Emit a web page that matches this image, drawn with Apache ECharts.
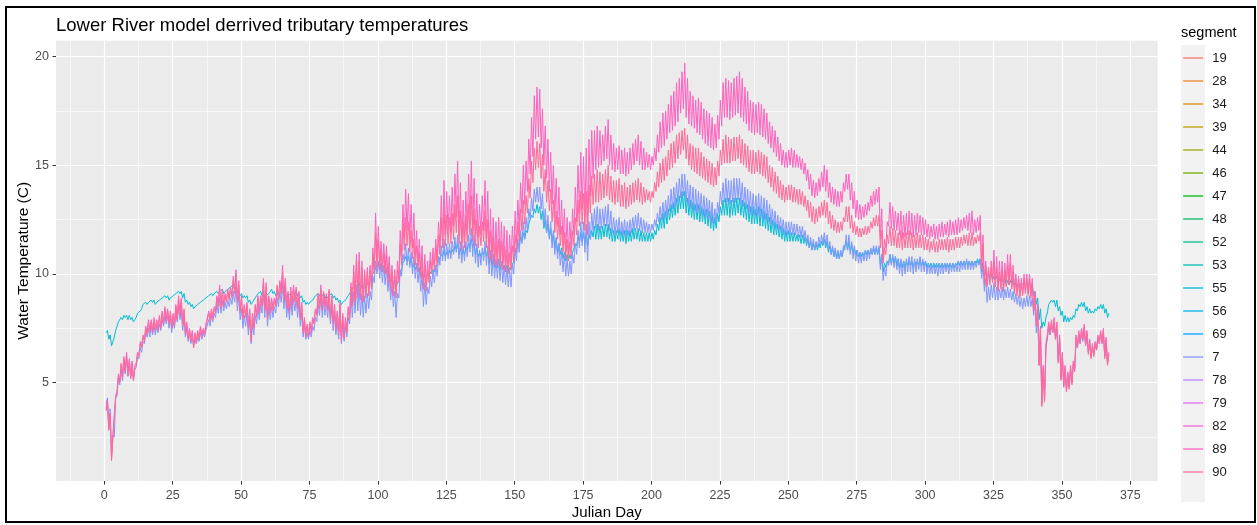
<!DOCTYPE html>
<html>
<head>
<meta charset="utf-8">
<script src="https://cdn.jsdelivr.net/npm/echarts@6/dist/echarts.min.js"></script>
<style>
  html, body { margin: 0; padding: 0; background: #ffffff; }
  #chart { width: 1257px; height: 525px; }
</style>
</head>
<body>
<div id="chart"></div>
<script>
// Modelled water temperature (°C), two readings per day: daily low then daily high.
// One line per ten Julian days, starting at day 1.
const seg89 = [
  3.8,4.2, 2.9,3.6, 1.5,2.6, 2.6,4.4, 4.6,5.4, 5.1,5.9, 5.3,6.2, 5.6,6.4, 5.4,6.1, 5.3,6.0,
  5.2,5.8, 5.9,6.4, 6.3,6.9, 6.7,7.2, 7.0,7.6, 7.3,7.9, 7.4,7.9, 7.4,8.0, 7.5,7.9, 7.5,8.1,
  7.6,8.3, 7.8,8.5, 7.9,8.4, 7.8,8.3, 7.6,8.2, 7.7,8.6, 8.0,9.0, 8.2,8.9, 7.7,8.4, 7.3,7.8,
  7.1,7.5, 7.0,7.4, 6.7,7.3, 6.9,7.4, 7.1,7.6, 7.2,7.5, 7.3,7.7, 7.7,8.3, 7.9,8.4, 8.0,8.5,
  8.3,9.0, 8.6,9.5, 8.5,9.3, 8.6,9.1, 8.8,9.3, 8.9,9.4, 9.0,9.9, 9.2,10.2, 8.8,9.7, 8.3,9.0,
  8.0,8.6, 8.1,8.7, 7.6,8.4, 7.0,8.2, 7.6,8.6, 8.1,9.0, 8.3,9.0, 8.6,9.8, 8.4,9.6, 8.0,9.0,
  8.3,8.9, 8.4,8.9, 8.6,9.5, 8.9,9.7, 9.2,10.4, 8.9,9.8, 8.5,9.2, 8.3,9.4, 8.6,9.5, 8.8,9.4,
  8.5,9.2, 8.0,8.7, 7.4,8.0, 7.2,7.7, 7.2,7.8, 7.4,8.0, 7.8,8.4, 8.2,9.1, 8.5,9.5, 8.4,9.2,
  8.6,9.1, 8.4,9.3, 8.0,9.0, 7.8,8.6, 7.5,8.3, 7.3,8.7, 7.0,8.2, 7.1,8.0, 7.4,8.5, 8.0,9.6,
  8.6,10.4, 8.8,10.9, 9.0,11.0, 8.9,10.6, 8.8,10.2, 9.0,10.3, 9.1,10.4, 9.4,11.2, 10.2,12.8, 10.6,12.2,
  10.4,11.5, 10.3,11.4, 10.2,11.3, 9.8,10.8, 9.4,10.4, 9.2,10.2, 9.1,10.6, 9.8,12.0, 10.8,13.2, 11.6,13.9,
  12.0,13.7, 11.6,13.2, 11.2,12.8, 10.8,12.0, 10.4,11.6, 10.0,11.3, 9.5,10.9, 9.4,10.6, 9.8,11.0, 10.2,11.2,
  10.4,11.6, 10.6,12.4, 11.2,13.6, 11.5,14.3, 11.8,13.8, 12.0,13.6, 11.9,14.0, 12.2,14.6, 12.6,15.2, 11.8,14.2,
  11.4,13.4, 11.6,13.8, 12.0,14.6, 12.4,15.2, 12.0,14.4, 11.8,13.7, 11.7,13.2, 11.8,13.6, 12.0,14.3, 11.6,13.8,
  11.0,13.0, 10.8,12.6, 10.6,12.4, 10.7,12.6, 10.6,12.4, 10.5,12.2, 10.4,12.0, 10.3,11.8, 10.5,12.2, 11.0,12.9,
  11.4,13.4, 12.0,14.2, 12.8,15.0, 13.2,15.2, 13.8,16.2, 14.6,17.2, 15.4,18.2, 16.2,18.6, 16.3,18.5, 15.8,17.6,
  15.0,16.8, 14.4,16.2, 13.8,15.6, 13.2,15.0, 12.6,14.4, 12.2,14.0, 11.8,13.4, 11.4,13.0, 11.0,12.6, 10.9,12.4,
  11.2,13.0, 11.8,14.0, 12.4,15.0, 12.8,15.6, 13.0,15.4, 12.6,15.8, 12.4,16.2, 13.6,16.6, 14.4,16.6, 14.8,16.8,
  14.9,16.6, 15.0,16.4, 15.2,16.8, 15.3,17.1, 15.0,16.4, 14.8,16.0, 14.7,15.8, 14.8,15.9, 14.6,15.7, 14.6,15.8,
  14.5,15.6, 14.6,15.8, 14.8,16.0, 15.0,16.2, 15.2,16.4, 15.0,16.1, 14.8,15.8, 14.8,15.6, 14.9,15.5, 14.8,15.4,
  15.0,15.8, 15.2,16.4, 15.6,17.0, 15.8,17.4, 15.9,17.5, 16.2,17.8, 16.5,18.2, 16.6,18.4, 16.8,18.8, 17.0,19.0,
  17.4,19.3, 17.6,19.7, 17.2,19.0, 16.9,18.4, 16.8,18.2, 16.7,18.0, 16.5,18.1, 16.4,17.9, 16.2,17.6, 16.0,17.5,
  15.9,17.4, 15.8,17.2, 15.7,16.9, 15.8,17.3, 16.2,18.0, 16.8,18.8, 17.2,19.0, 17.2,18.9, 17.1,18.8, 17.2,19.0,
  17.3,19.1, 17.4,19.3, 17.2,19.0, 17.0,18.6, 16.9,18.4, 16.6,18.0, 16.5,17.9, 16.4,17.8, 16.5,17.9, 16.4,17.8,
  16.3,17.6, 16.2,17.4, 16.0,17.0, 15.8,16.8, 15.6,16.6, 15.4,16.3, 15.2,16.0, 15.0,15.7, 14.9,15.6, 14.9,15.7,
  15.0,15.8, 14.9,15.7, 14.9,15.5, 14.9,15.4, 14.8,15.3, 14.6,15.1, 14.3,14.8, 13.9,14.6, 13.6,14.3, 13.5,14.2,
  13.6,14.4, 13.8,14.7, 14.0,15.0, 13.8,14.8, 13.5,14.2, 13.3,14.0, 13.2,13.9, 13.1,13.8, 13.1,13.8, 13.3,14.2,
  13.8,14.6, 13.9,14.6, 13.4,14.2, 13.0,13.8, 12.6,13.4, 12.5,13.2, 12.5,13.1, 12.6,13.2, 12.7,13.3, 12.9,13.6,
  13.1,13.8, 13.2,13.9, 13.3,14.0, 11.6,13.0, 10.7,11.6, 11.2,12.4, 12.2,13.3, 12.1,13.1, 12.0,12.9, 12.0,12.8,
  11.8,12.9, 11.6,12.7, 11.7,12.8, 11.8,12.9, 11.8,12.8, 11.7,12.7, 11.8,12.8, 11.9,12.7, 11.8,12.6, 11.8,12.5,
  11.7,12.3, 11.6,12.2, 11.7,12.3, 11.6,12.2, 11.6,12.3, 11.7,12.4, 11.7,12.3, 11.8,12.4, 11.7,12.5, 11.8,12.4,
  11.8,12.5, 11.8,12.6, 11.9,12.5, 12.0,12.6, 12.1,12.7, 12.0,12.8, 11.9,12.9, 11.8,12.5, 11.9,12.6, 12.0,12.7,
  10.4,11.8, 9.6,10.6, 9.5,10.3, 9.6,10.6, 9.8,11.1, 9.5,10.8, 9.3,10.6, 9.4,10.6, 9.3,10.5, 9.5,10.9,
  9.6,10.9, 9.4,10.4, 9.2,10.0, 9.1,9.9, 9.0,9.8, 9.1,10.0, 9.2,10.0, 9.1,10.0, 9.0,9.8, 8.4,9.2,
  7.6,8.6, 5.8,7.6, 4.0,5.8, 4.2,6.8, 7.2,7.8, 7.3,7.9, 7.4,8.0, 7.1,7.8, 6.0,7.2, 5.2,6.4,
  4.8,5.8, 4.6,5.5, 4.8,5.8, 5.0,6.0, 5.6,7.2, 6.7,7.4, 6.9,7.5, 7.1,7.7, 6.8,7.4, 6.4,7.0,
  6.2,6.8, 6.3,6.9, 6.6,7.2, 6.9,7.4, 6.9,7.5, 6.2,7.1, 5.9,6.4
];

const seg90 = [
  3.7,4.1, 2.8,3.5, 1.4,2.5, 2.5,4.3, 4.5,5.3, 5.0,5.8, 5.2,6.1, 5.5,6.3, 5.3,6.0, 5.2,5.9,
  5.1,5.7, 5.8,6.3, 6.2,6.8, 6.6,7.1, 6.9,7.5, 7.2,7.8, 7.3,7.8, 7.3,7.9, 7.4,7.8, 7.4,8.0,
  7.5,8.2, 7.7,8.4, 7.8,8.3, 7.7,8.2, 7.5,8.1, 7.6,8.5, 7.9,8.8, 8.1,8.8, 7.6,8.3, 7.2,7.7,
  7.0,7.4, 6.9,7.3, 6.6,7.2, 6.8,7.3, 7.0,7.5, 7.1,7.4, 7.2,7.6, 7.6,8.2, 7.8,8.3, 7.9,8.4,
  8.2,8.9, 8.5,9.3, 8.4,9.2, 8.5,9.0, 8.7,9.2, 8.8,9.3, 8.9,9.7, 9.1,10.0, 8.7,9.5, 8.2,8.9,
  7.9,8.5, 8.0,8.6, 7.5,8.3, 6.9,8.1, 7.5,8.5, 8.0,8.9, 8.2,8.9, 8.5,9.6, 8.3,9.4, 7.9,8.9,
  8.2,8.8, 8.3,8.8, 8.5,9.4, 8.8,9.6, 9.1,10.1, 8.8,9.6, 8.4,9.1, 8.2,9.2, 8.5,9.3, 8.7,9.3,
  8.4,9.1, 7.9,8.6, 7.3,7.9, 7.1,7.6, 7.1,7.7, 7.3,7.9, 7.7,8.3, 8.1,9.0, 8.4,9.3, 8.3,9.1,
  8.5,9.0, 8.3,9.2, 7.9,8.9, 7.7,8.5, 7.4,8.2, 7.2,8.6, 6.9,8.1, 7.0,7.9, 7.3,8.4, 7.9,9.4,
  8.5,10.1, 8.7,10.6, 8.9,10.6, 8.8,10.3, 8.7,10.0, 8.9,10.1, 9.0,10.2, 9.3,10.9, 10.0,11.9, 10.3,11.6,
  10.2,11.1, 10.1,11.0, 10.0,10.9, 9.6,10.5, 9.2,10.1, 9.0,9.9, 8.9,10.2, 9.6,11.4, 10.4,12.3, 11.1,12.6,
  11.3,12.4, 11.0,12.0, 10.7,11.6, 10.4,11.3, 10.1,11.0, 9.8,10.7, 9.3,10.4, 9.2,10.2, 9.6,10.6, 10.0,10.8,
  10.2,11.2, 10.4,11.8, 10.9,12.6, 11.2,13.1, 11.3,12.7, 11.4,12.6, 11.4,12.8, 11.6,13.2, 11.9,13.6, 11.4,12.9,
  11.1,12.4, 11.2,12.7, 11.5,13.2, 11.8,13.6, 11.5,13.0, 11.3,12.5, 11.2,12.2, 11.3,12.4, 11.5,12.9, 11.2,12.5,
  10.7,12.0, 10.5,11.7, 10.4,11.5, 10.4,11.6, 10.3,11.5, 10.2,11.3, 10.1,11.1, 10.0,11.0, 10.2,11.3, 10.6,11.8,
  11.0,12.4, 11.5,13.0, 12.0,13.4, 12.3,13.6, 12.8,14.4, 13.5,15.2, 14.2,15.8, 14.8,16.1, 14.9,16.0, 14.4,15.5,
  13.8,14.8, 13.3,14.3, 12.9,13.9, 12.4,13.4, 11.9,12.9, 11.6,12.6, 11.3,12.2, 11.0,11.9, 10.7,11.6, 10.6,11.5,
  10.8,12.0, 11.3,12.6, 11.8,13.4, 12.2,13.8, 12.3,13.7, 12.0,13.8, 11.8,14.1, 12.8,14.5, 13.2,14.6, 13.3,14.8,
  13.3,14.7, 13.4,14.6, 13.5,14.8, 13.6,15.0, 13.4,14.5, 13.3,14.3, 13.2,14.3, 13.3,14.4, 13.1,14.1, 13.1,14.2,
  13.0,14.0, 13.1,14.1, 13.2,14.2, 13.3,14.3, 13.4,14.4, 13.3,14.2, 13.2,14.0, 13.3,13.9, 13.4,13.8, 13.3,13.8,
  13.5,14.2, 13.8,14.7, 14.0,15.1, 14.2,15.3, 14.3,15.4, 14.5,15.7, 14.8,16.0, 14.9,16.1, 15.1,16.4, 15.3,16.5,
  15.5,16.6, 15.7,16.7, 15.3,16.4, 15.0,16.0, 14.8,15.9, 14.7,15.8, 14.6,15.8, 14.5,15.6, 14.4,15.4, 14.3,15.3,
  14.2,15.2, 14.1,15.1, 14.0,14.9, 14.1,15.2, 14.5,15.7, 15.0,16.2, 15.1,16.4, 15.1,16.3, 15.1,16.2, 15.2,16.3,
  15.2,16.3, 15.3,16.4, 15.1,16.2, 15.0,16.0, 14.9,15.9, 14.7,15.7, 14.6,15.7, 14.6,15.6, 14.7,15.7, 14.6,15.6,
  14.5,15.5, 14.4,15.4, 14.2,15.0, 14.0,14.9, 13.8,14.7, 13.7,14.5, 13.5,14.3, 13.4,14.1, 13.3,14.0, 13.4,14.1,
  13.4,14.1, 13.3,14.0, 13.3,13.9, 13.2,13.9, 13.2,13.8, 13.1,13.6, 12.9,13.4, 12.6,13.3, 12.4,13.1, 12.3,13.0,
  12.4,13.1, 12.6,13.3, 12.7,13.4, 12.6,13.3, 12.3,12.9, 12.1,12.7, 12.0,12.5, 11.9,12.4, 11.9,12.4, 12.0,12.6,
  12.4,13.1, 12.4,13.1, 12.1,12.7, 11.9,12.4, 11.8,12.2, 11.7,12.1, 11.7,12.1, 11.8,12.2, 11.8,12.2, 11.9,12.4,
  12.1,12.6, 12.2,12.7, 12.2,12.7, 11.2,12.0, 10.5,11.2, 10.9,11.8, 11.4,12.2, 11.3,12.1, 11.3,12.0, 11.2,11.9,
  11.2,12.0, 11.1,11.9, 11.2,11.9, 11.2,12.0, 11.2,11.9, 11.1,11.8, 11.2,11.9, 11.2,11.8, 11.2,11.8, 11.1,11.7,
  11.1,11.6, 11.0,11.5, 11.1,11.6, 11.0,11.5, 11.0,11.6, 11.1,11.6, 11.1,11.6, 11.1,11.7, 11.0,11.6, 11.1,11.6,
  11.1,11.7, 11.2,11.7, 11.2,11.7, 11.3,11.8, 11.4,11.8, 11.3,11.9, 11.3,11.9, 11.3,11.7, 11.4,11.8, 11.5,11.9,
  10.2,11.4, 9.5,10.4, 9.4,10.2, 9.5,10.3, 9.6,10.6, 9.4,10.3, 9.2,10.1, 9.3,10.2, 9.2,10.1, 9.4,10.4,
  9.5,10.5, 9.3,10.1, 9.1,9.8, 9.0,9.7, 8.9,9.6, 9.0,9.8, 9.1,9.8, 9.0,9.8, 8.9,9.6, 8.3,9.0,
  7.6,8.5, 5.8,7.5, 3.9,5.7, 4.1,6.7, 7.1,7.7, 7.2,7.8, 7.3,7.9, 7.0,7.7, 5.9,7.1, 5.1,6.3,
  4.8,5.7, 4.6,5.4, 4.7,5.7, 4.9,5.9, 5.5,7.1, 6.6,7.3, 6.8,7.4, 7.0,7.6, 6.7,7.3, 6.3,6.9,
  6.1,6.7, 6.2,6.8, 6.5,7.1, 6.8,7.3, 6.8,7.4, 6.1,7.0, 5.8,6.3
];

const seg7 = [
  4.0,4.3, 3.0,3.8, 1.7,2.6, 2.5,4.3, 4.4,5.2, 4.9,5.6, 5.1,5.9, 5.4,6.1, 5.3,5.9, 5.2,5.8,
  5.1,5.6, 5.7,6.2, 6.1,6.6, 6.4,6.9, 6.8,7.3, 7.1,7.5, 7.1,7.6, 7.2,7.6, 7.2,7.6, 7.3,7.7,
  7.4,7.9, 7.6,8.1, 7.7,8.1, 7.5,8.0, 7.3,7.8, 7.5,8.2, 7.8,8.5, 7.9,8.4, 7.4,8.0, 7.1,7.5,
  6.9,7.2, 6.8,7.1, 6.7,7.0, 6.8,7.1, 6.9,7.3, 7.0,7.3, 7.1,7.4, 7.4,7.9, 7.6,8.1, 7.8,8.2,
  8.0,8.6, 8.2,8.9, 8.2,8.8, 8.3,8.7, 8.4,8.8, 8.5,8.9, 8.6,9.2, 8.7,9.4, 8.3,9.0, 7.9,8.4,
  7.5,8.1, 7.6,8.2, 7.2,7.9, 6.8,7.7, 7.2,8.1, 7.7,8.5, 7.9,8.6, 8.2,9.2, 8.0,9.0, 7.6,8.5,
  7.9,8.5, 8.0,8.5, 8.2,8.9, 8.5,9.2, 8.7,9.6, 8.4,9.2, 8.0,8.7, 7.9,8.8, 8.1,8.9, 8.3,8.9,
  8.0,8.7, 7.6,8.2, 7.1,7.6, 7.0,7.3, 7.0,7.4, 7.1,7.6, 7.4,8.0, 7.8,8.6, 8.1,9.0, 8.0,8.8,
  8.1,8.7, 8.0,8.8, 7.7,8.5, 7.4,8.1, 7.2,7.8, 7.0,8.2, 6.8,7.8, 6.9,7.6, 7.1,8.0, 7.7,9.0,
  8.0,9.2, 8.2,9.4, 8.3,9.4, 8.1,9.1, 8.0,9.0, 8.2,9.1, 8.4,9.2, 8.8,9.9, 9.6,10.6, 10.0,10.6,
  9.8,10.5, 9.6,10.4, 9.5,10.3, 9.2,9.9, 8.8,9.5, 8.5,9.2, 8.0,9.1, 8.9,10.2, 9.9,10.9, 10.6,11.4,
  10.4,11.2, 10.3,11.0, 10.0,10.8, 9.8,10.5, 9.6,10.3, 9.2,10.0, 8.5,9.6, 8.6,9.4, 9.1,9.9, 9.4,10.2,
  9.6,10.4, 9.9,10.8, 10.4,11.3, 10.6,11.6, 10.6,11.4, 10.7,11.4, 10.7,11.5, 10.9,11.7, 11.0,11.8, 10.7,11.5,
  10.5,11.3, 10.6,11.5, 10.8,11.8, 11.0,12.1, 10.8,11.8, 10.5,11.4, 10.3,11.1, 10.4,11.2, 10.6,11.5, 10.4,11.3,
  10.0,11.1, 9.9,10.9, 9.8,10.7, 9.8,10.7, 9.7,10.6, 9.6,10.4, 9.5,10.3, 9.4,10.2, 9.4,10.5, 10.0,11.2,
  10.6,11.6, 11.0,12.0, 11.4,12.4, 11.6,12.6, 12.0,13.0, 12.5,13.5, 12.9,13.9, 13.3,14.0, 13.3,14.0, 13.0,13.7,
  12.2,13.0, 11.9,12.7, 11.6,12.4, 11.2,12.0, 10.9,11.7, 10.7,11.4, 10.4,11.1, 10.1,10.9, 9.9,10.7, 9.9,10.6,
  10.0,10.9, 10.5,11.4, 10.9,12.0, 11.2,12.4, 11.3,12.4, 11.0,12.3, 10.6,12.4, 11.6,12.8, 12.0,13.0, 12.1,13.1,
  12.0,13.0, 12.1,13.0, 12.2,13.1, 12.2,13.2, 12.0,12.9, 11.9,12.6, 11.8,12.5, 11.9,12.6, 11.8,12.4, 11.8,12.5,
  11.7,12.4, 11.8,12.5, 11.9,12.6, 12.0,12.7, 12.1,12.8, 12.0,12.6, 11.9,12.5, 11.9,12.4, 11.9,12.3, 11.9,12.3,
  12.0,12.5, 12.2,12.8, 12.4,13.1, 12.5,13.3, 12.5,13.4, 12.7,13.6, 12.9,13.9, 13.0,14.0, 13.1,14.2, 13.3,14.4,
  13.5,14.6, 13.6,14.6, 13.3,14.3, 13.1,14.1, 13.0,14.0, 12.9,13.9, 12.8,13.8, 12.8,13.7, 12.7,13.6, 12.6,13.5,
  12.5,13.4, 12.4,13.3, 12.3,13.0, 12.4,13.3, 12.8,13.8, 13.2,14.2, 13.3,14.4, 13.3,14.3, 13.2,14.3, 13.3,14.4,
  13.3,14.4, 13.4,14.4, 13.2,14.2, 13.1,14.0, 13.0,13.9, 12.8,13.8, 12.7,13.7, 12.7,13.6, 12.7,13.7, 12.6,13.6,
  12.5,13.5, 12.5,13.4, 12.4,13.2, 12.3,13.0, 12.2,12.9, 12.1,12.7, 12.0,12.6, 11.9,12.5, 11.8,12.4, 11.8,12.4,
  11.8,12.4, 11.8,12.3, 11.8,12.3, 11.7,12.2, 11.7,12.2, 11.6,12.0, 11.4,11.8, 11.2,11.7, 11.1,11.6, 11.1,11.5,
  11.2,11.7, 11.3,11.8, 11.4,11.9, 11.3,11.8, 11.1,11.5, 10.9,11.3, 10.8,11.2, 10.7,11.1, 10.7,11.1, 10.8,11.3,
  11.1,11.8, 11.1,11.8, 10.9,11.5, 10.7,11.3, 10.6,11.1, 10.5,11.0, 10.5,11.0, 10.6,11.1, 10.6,11.1, 10.7,11.2,
  10.9,11.3, 10.9,11.3, 10.9,11.3, 10.2,10.9, 9.7,10.3, 9.9,10.6, 10.4,10.9, 10.4,10.9, 10.3,10.8, 10.2,10.7,
  10.0,10.7, 9.9,10.6, 10.0,10.7, 10.1,10.8, 10.1,10.8, 10.0,10.7, 10.1,10.7, 10.2,10.8, 10.1,10.7, 10.1,10.6,
  10.0,10.5, 10.0,10.4, 10.0,10.5, 10.0,10.4, 9.9,10.5, 10.0,10.5, 10.0,10.5, 10.1,10.5, 10.0,10.5, 10.1,10.5,
  10.1,10.5, 10.1,10.6, 10.1,10.6, 10.2,10.6, 10.2,10.7, 10.2,10.6, 10.2,10.6, 10.2,10.6, 10.3,10.6, 10.4,10.7,
  9.8,10.4, 9.2,9.8, 8.7,9.4, 8.8,9.5, 8.9,9.6, 8.8,9.4, 8.8,9.3, 8.9,9.4, 8.8,9.3, 8.9,9.4,
  8.9,9.3, 8.8,9.2, 8.7,9.1, 8.6,9.0, 8.5,8.9, 8.4,8.9, 8.5,9.0, 8.5,9.0, 8.5,8.9, 8.1,8.7,
  7.3,8.2, 5.9,7.4, 4.1,5.6, 4.3,6.6, 7.0,7.5, 7.2,7.6, 7.3,7.7, 7.0,7.5, 6.0,7.0, 5.2,6.2,
  4.9,5.6, 4.7,5.4, 4.8,5.6, 5.0,5.8, 5.6,6.9, 6.6,7.1, 6.8,7.2, 6.9,7.3, 6.7,7.1, 6.4,6.8,
  6.2,6.6, 6.3,6.7, 6.5,7.0, 6.8,7.2, 6.8,7.2, 6.2,6.9, 5.9,6.3
];

const seg55 = [
  7.3,7.4, 7.0,7.2, 6.7,6.9, 7.1,7.4, 7.6,7.8, 7.8,8.0, 7.9,8.1, 8.0,8.1, 7.9,8.1, 7.9,8.0,
  7.8,7.9, 8.0,8.2, 8.2,8.3, 8.4,8.6, 8.6,8.7, 8.6,8.7, 8.7,8.8, 8.7,8.8, 8.6,8.7, 8.7,8.8,
  8.8,8.9, 8.9,9.0, 8.9,9.0, 8.8,8.9, 8.9,9.0, 9.0,9.1, 9.1,9.2, 9.1,9.2, 8.9,9.1, 8.7,8.8,
  8.6,8.7, 8.5,8.6, 8.4,8.5, 8.5,8.6, 8.6,8.7, 8.7,8.8, 8.8,8.9, 8.9,9.0, 9.0,9.1, 9.0,9.1,
  9.1,9.2, 9.1,9.2, 9.2,9.3, 9.1,9.2, 9.2,9.3, 9.3,9.4, 9.4,9.5, 9.3,9.4, 9.1,9.2, 9.0,9.1,
  8.9,9.0, 8.9,9.0, 8.7,8.8, 8.6,8.7, 8.8,8.9, 9.0,9.1, 9.1,9.2, 9.0,9.1, 8.9,9.0, 9.0,9.1,
  9.2,9.3, 9.1,9.2, 9.0,9.1, 9.0,9.1, 9.1,9.2, 9.0,9.1, 8.9,9.0, 9.0,9.1, 9.1,9.2, 9.1,9.2,
  9.0,9.1, 8.9,9.0, 8.7,8.8, 8.6,8.7, 8.6,8.7, 8.7,8.8, 8.9,9.0, 9.0,9.1, 9.0,9.1, 9.0,9.1,
  8.9,9.0, 8.9,9.0, 9.0,9.1, 8.9,9.0, 8.8,8.9, 8.7,8.8, 8.6,8.7, 8.7,8.8, 8.8,9.0, 9.0,9.2,
  9.2,9.4, 9.3,9.5, 9.4,9.6, 9.3,9.5, 9.3,9.5, 9.4,9.6, 9.5,9.7, 9.8,10.0, 10.1,10.3, 10.3,10.5,
  10.2,10.4, 10.1,10.3, 10.0,10.2, 9.8,10.0, 9.6,9.8, 9.5,9.7, 9.4,9.6, 9.7,10.0, 10.2,10.5, 10.6,10.8,
  10.6,10.8, 10.5,10.7, 10.3,10.5, 10.2,10.4, 10.1,10.3, 9.9,10.1, 9.8,10.0, 9.8,10.0, 9.9,10.1, 10.0,10.2,
  10.1,10.3, 10.3,10.6, 10.6,10.9, 10.8,11.1, 10.8,11.0, 10.9,11.1, 10.9,11.1, 11.0,11.3, 11.1,11.4, 10.9,11.2,
  10.9,11.1, 10.9,11.2, 11.1,11.4, 11.3,11.6, 11.2,11.4, 10.9,11.2, 10.8,11.0, 10.8,11.0, 10.9,11.2, 10.8,11.1,
  10.5,10.8, 10.4,10.7, 10.3,10.6, 10.3,10.6, 10.2,10.5, 10.2,10.4, 10.1,10.4, 10.1,10.3, 10.2,10.4, 10.6,10.9,
  11.0,11.4, 11.3,11.7, 11.5,11.9, 11.6,12.0, 11.9,12.3, 12.3,12.7, 12.6,13.0, 12.8,13.2, 12.8,13.1, 12.5,12.9,
  12.1,12.5, 11.9,12.3, 11.7,12.1, 11.5,11.9, 11.2,11.6, 11.0,11.4, 10.9,11.2, 10.7,11.0, 10.6,10.9, 10.6,10.9,
  10.7,11.0, 11.0,11.4, 11.3,11.7, 11.5,11.9, 11.5,11.9, 11.4,11.9, 11.3,11.8, 11.6,12.0, 11.7,12.2, 11.6,12.3,
  11.6,12.2, 11.6,12.2, 11.7,12.3, 11.7,12.3, 11.6,12.1, 11.5,12.0, 11.5,12.0, 11.6,12.1, 11.5,12.0, 11.5,12.0,
  11.4,12.0, 11.5,12.0, 11.5,12.1, 11.6,12.1, 11.6,12.1, 11.5,12.0, 11.5,11.9, 11.5,11.9, 11.5,11.9, 11.5,11.9,
  11.6,12.0, 11.8,12.3, 12.0,12.6, 12.1,12.8, 12.1,12.9, 12.3,13.0, 12.5,13.2, 12.6,13.3, 12.7,13.5, 12.8,13.6,
  13.0,13.8, 13.0,13.8, 12.8,13.5, 12.7,13.4, 12.6,13.3, 12.5,13.2, 12.5,13.2, 12.4,13.1, 12.4,13.0, 12.3,13.0,
  12.2,12.9, 12.1,12.8, 12.0,12.6, 12.1,12.8, 12.4,13.1, 12.7,13.4, 12.7,13.5, 12.7,13.5, 12.6,13.4, 12.7,13.5,
  12.7,13.5, 12.8,13.5, 12.7,13.4, 12.6,13.3, 12.5,13.2, 12.4,13.1, 12.3,13.1, 12.3,13.0, 12.3,13.1, 12.2,13.0,
  12.2,12.9, 12.1,12.8, 12.0,12.6, 11.9,12.5, 11.8,12.4, 11.8,12.3, 11.7,12.2, 11.6,12.1, 11.5,12.0, 11.5,12.0,
  11.5,11.9, 11.5,11.9, 11.5,11.8, 11.5,11.8, 11.4,11.8, 11.4,11.7, 11.3,11.6, 11.2,11.5, 11.1,11.4, 11.1,11.4,
  11.1,11.4, 11.2,11.5, 11.3,11.6, 11.2,11.5, 11.0,11.3, 10.9,11.2, 10.8,11.1, 10.7,11.0, 10.7,11.0, 10.8,11.1,
  11.1,11.5, 11.1,11.5, 11.0,11.4, 10.9,11.2, 10.9,11.1, 10.8,11.0, 10.8,11.0, 10.8,11.1, 10.9,11.1, 10.9,11.1,
  10.9,11.2, 10.9,11.2, 10.9,11.2, 10.4,10.9, 10.1,10.5, 10.3,10.6, 10.5,10.9, 10.5,10.8, 10.5,10.8, 10.4,10.7,
  10.3,10.6, 10.3,10.6, 10.3,10.6, 10.4,10.7, 10.4,10.6, 10.3,10.6, 10.4,10.6, 10.4,10.7, 10.4,10.6, 10.4,10.6,
  10.3,10.5, 10.3,10.5, 10.3,10.5, 10.3,10.5, 10.3,10.5, 10.3,10.5, 10.3,10.5, 10.3,10.5, 10.3,10.5, 10.3,10.5,
  10.3,10.5, 10.4,10.6, 10.4,10.6, 10.4,10.6, 10.4,10.6, 10.4,10.6, 10.4,10.6, 10.4,10.6, 10.5,10.7, 10.5,10.7,
  10.1,10.5, 9.9,10.1, 9.8,10.0, 9.8,10.0, 9.7,9.9, 9.7,9.9, 9.6,9.8, 9.6,9.8, 9.6,9.8, 9.5,9.7,
  9.5,9.7, 9.5,9.7, 9.4,9.6, 9.4,9.6, 9.4,9.5, 9.5,9.6, 9.5,9.6, 9.5,9.6, 9.4,9.5, 9.0,9.2,
  8.6,8.9, 7.9,8.4, 7.5,7.8, 7.6,8.0, 8.2,8.6, 8.6,8.8, 8.7,8.8, 8.5,8.8, 8.3,8.5, 8.1,8.3,
  7.8,8.1, 7.8,8.0, 7.8,8.0, 7.9,8.1, 8.0,8.4, 8.3,8.6, 8.5,8.7, 8.5,8.7, 8.3,8.5, 8.2,8.4,
  8.2,8.3, 8.2,8.4, 8.3,8.5, 8.4,8.6, 8.4,8.6, 8.2,8.4, 8.0,8.2
];

// Legend order of the segments (as sorted labels)
const segments = ['19', '28', '34', '39', '44', '46', '47', '48', '52', '53',
                  '55', '56', '69', '7', '78', '79', '82', '89', '90'];

// Each segment's record; several segments share one modelled record, and only
// the last-drawn segment of a shared record shows on top.
const recordOf = {
  '19': seg55, '28': seg55, '34': seg55, '39': seg55, '44': seg55, '46': seg55,
  '47': seg55, '48': seg55, '52': seg55, '53': seg55, '55': seg55,
  '56': seg7, '69': seg7, '7': seg7,
  '78': seg89, '79': seg89, '82': seg89, '89': seg89,
  '90': seg90
};
const topOfShared = ['55', '7', '89', '90'];

const firstSampleDay = 0.65;   // Julian day of the first reading
const sampleStep = 0.5;        // days between readings

const xMajorTicks = [0, 25, 50, 75, 100, 125, 150, 175, 200, 225, 250, 275, 300, 325, 350, 375];
const xMinorTicks = [-12.5, 12.5, 37.5, 62.5, 87.5, 112.5, 137.5, 162.5, 187.5, 212.5,
                     237.5, 262.5, 287.5, 312.5, 337.5, 362.5];
const yMajorTicks = [5, 10, 15, 20];
const yMinorTicks = [2.5, 7.5, 12.5, 17.5];

// Discrete hue palette in HCL space (l = 65, c = 100), hues evenly spaced from 15°
function hclToHex(h, c, l) {
  const WY = 100.0, Wu = 0.1978398, Wv = 0.4683363;
  const hr = h * Math.PI / 180;
  const U = c * Math.cos(hr), V = c * Math.sin(hr);
  const Y = WY * (l > 7.999592 ? Math.pow((l + 16) / 116, 3) : l / 903.3);
  const u = U / (13 * l) + Wu, v = V / (13 * l) + Wv;
  const X = 9.0 * Y * u / (4 * v);
  const Z = -X / 3 - 5 * Y + 3 * Y / v;
  const g = (t) => t > 0.00304 ? 1.055 * Math.pow(t, 1 / 2.4) - 0.055 : 12.92 * t;
  const ch = (t) => {
    const n = Math.round(Math.min(1, Math.max(0, g(t))) * 255);
    return n.toString(16).padStart(2, '0');
  };
  return '#' + ch((3.240479 * X - 1.537150 * Y - 0.498535 * Z) / WY)
             + ch((-0.969256 * X + 1.875992 * Y + 0.041556 * Z) / WY)
             + ch((0.055648 * X - 0.204043 * Y + 1.057311 * Z) / WY);
}
const palette = segments.map((_, i) => hclToHex(15 + i * 360 / segments.length, 100, 65));

const FONT = 'Liberation Sans, Arial, sans-serif';

const series = segments.map((name, k) => ({
  name: name,
  type: 'line',
  xAxisIndex: 0,
  yAxisIndex: 0,
  data: recordOf[name].map((v, i) => [firstSampleDay + i * sampleStep, v]),
  symbol: 'none',
  showSymbol: false,
  // a shared record is stroked once, in the colour of the segment drawn last
  lineStyle: { width: 1, color: palette[k], opacity: topOfShared.includes(name) ? 1 : 0 },
  itemStyle: { color: palette[k] },
  emphasis: { disabled: true },
  silent: true,
  clip: true
}));

const chart = echarts.init(document.getElementById('chart'), null, { renderer: 'canvas' });

chart.setOption({
  animation: false,
  backgroundColor: '#ffffff',
  title: {
    text: 'Lower River model derrived tributary temperatures',
    left: 56,
    top: 16.5,
    padding: 0,
    textStyle: { fontFamily: FONT, fontSize: 18.5, fontWeight: 'normal', color: '#000000' }
  },
  grid: {
    left: 56, top: 40.7, width: 1101.7, height: 441,
    show: true, backgroundColor: '#EBEBEB', borderWidth: 0,
    containLabel: false
  },
  legend: {
    orient: 'vertical',
    left: 1182.5,
    top: 51.5,
    padding: 0,
    itemWidth: 20,
    itemHeight: 14,
    itemGap: 10,
    selectedMode: false,
    data: segments,
    itemStyle: { opacity: 0 },
    lineStyle: { opacity: 1, width: 1.3 },
    textStyle: { fontFamily: FONT, fontSize: 13, color: '#1a1a1a', padding: [0, 0, 0, 4] }
  },
  xAxis: [
    {
      type: 'value', min: -17.65, max: 385.0,
      name: 'Julian Day', nameLocation: 'middle', nameGap: 24, nameMoveOverlap: false,
      nameTextStyle: { fontFamily: FONT, fontSize: 15, color: '#000000' },
      axisLine: { show: false, onZero: false },
      axisTick: { show: true, customValues: xMajorTicks, length: 3.5, lineStyle: { color: '#333333', width: 1 } },
      axisLabel: { customValues: xMajorTicks, fontFamily: FONT, fontSize: 12.5, color: '#4D4D4D', margin: 8 },
      splitLine: { show: true, lineStyle: { color: '#ffffff', width: 1.2 } }
    },
    {
      type: 'value', min: -17.65, max: 385.0, position: 'bottom',
      axisLine: { show: false, onZero: false },
      axisTick: { show: false, customValues: xMinorTicks },
      axisLabel: { show: false, customValues: xMinorTicks },
      splitLine: { show: true, lineStyle: { color: '#ffffff', width: 0.6 } }
    }
  ],
  yAxis: [
    {
      type: 'value', min: 0.48, max: 20.73,
      name: 'Water Temperature (C)', nameLocation: 'middle', nameGap: 24.5, nameMoveOverlap: false,
      nameTextStyle: { fontFamily: FONT, fontSize: 15.5, color: '#000000' },
      axisLine: { show: false, onZero: false },
      axisTick: { show: true, customValues: yMajorTicks, length: 3.5, lineStyle: { color: '#333333', width: 1 } },
      axisLabel: { customValues: yMajorTicks, fontFamily: FONT, fontSize: 12.5, color: '#4D4D4D', margin: 7 },
      splitLine: { show: true, lineStyle: { color: '#ffffff', width: 1.2 } }
    },
    {
      type: 'value', min: 0.48, max: 20.73, position: 'left',
      axisLine: { show: false, onZero: false },
      axisTick: { show: false, customValues: yMinorTicks },
      axisLabel: { show: false, customValues: yMinorTicks },
      splitLine: { show: true, lineStyle: { color: '#ffffff', width: 0.6 } }
    }
  ],
  graphic: [
    {
      type: 'rect', z: 0,
      shape: { x: 1181, y: 45, width: 24, height: 457 },
      style: { fill: '#F2F2F2' }
    },
    {
      type: 'text', z: 10,
      left: 1181, top: 25,
      style: { text: 'segment', fontFamily: FONT, fontSize: 14.5, fill: '#000000' }
    },
    {
      type: 'rect', z: 100,
      shape: { x: 6, y: 7, width: 1249, height: 515 },
      style: { fill: 'none', stroke: '#000000', lineWidth: 2 }
    }
  ],
  series: series
});
</script>
</body>
</html>
